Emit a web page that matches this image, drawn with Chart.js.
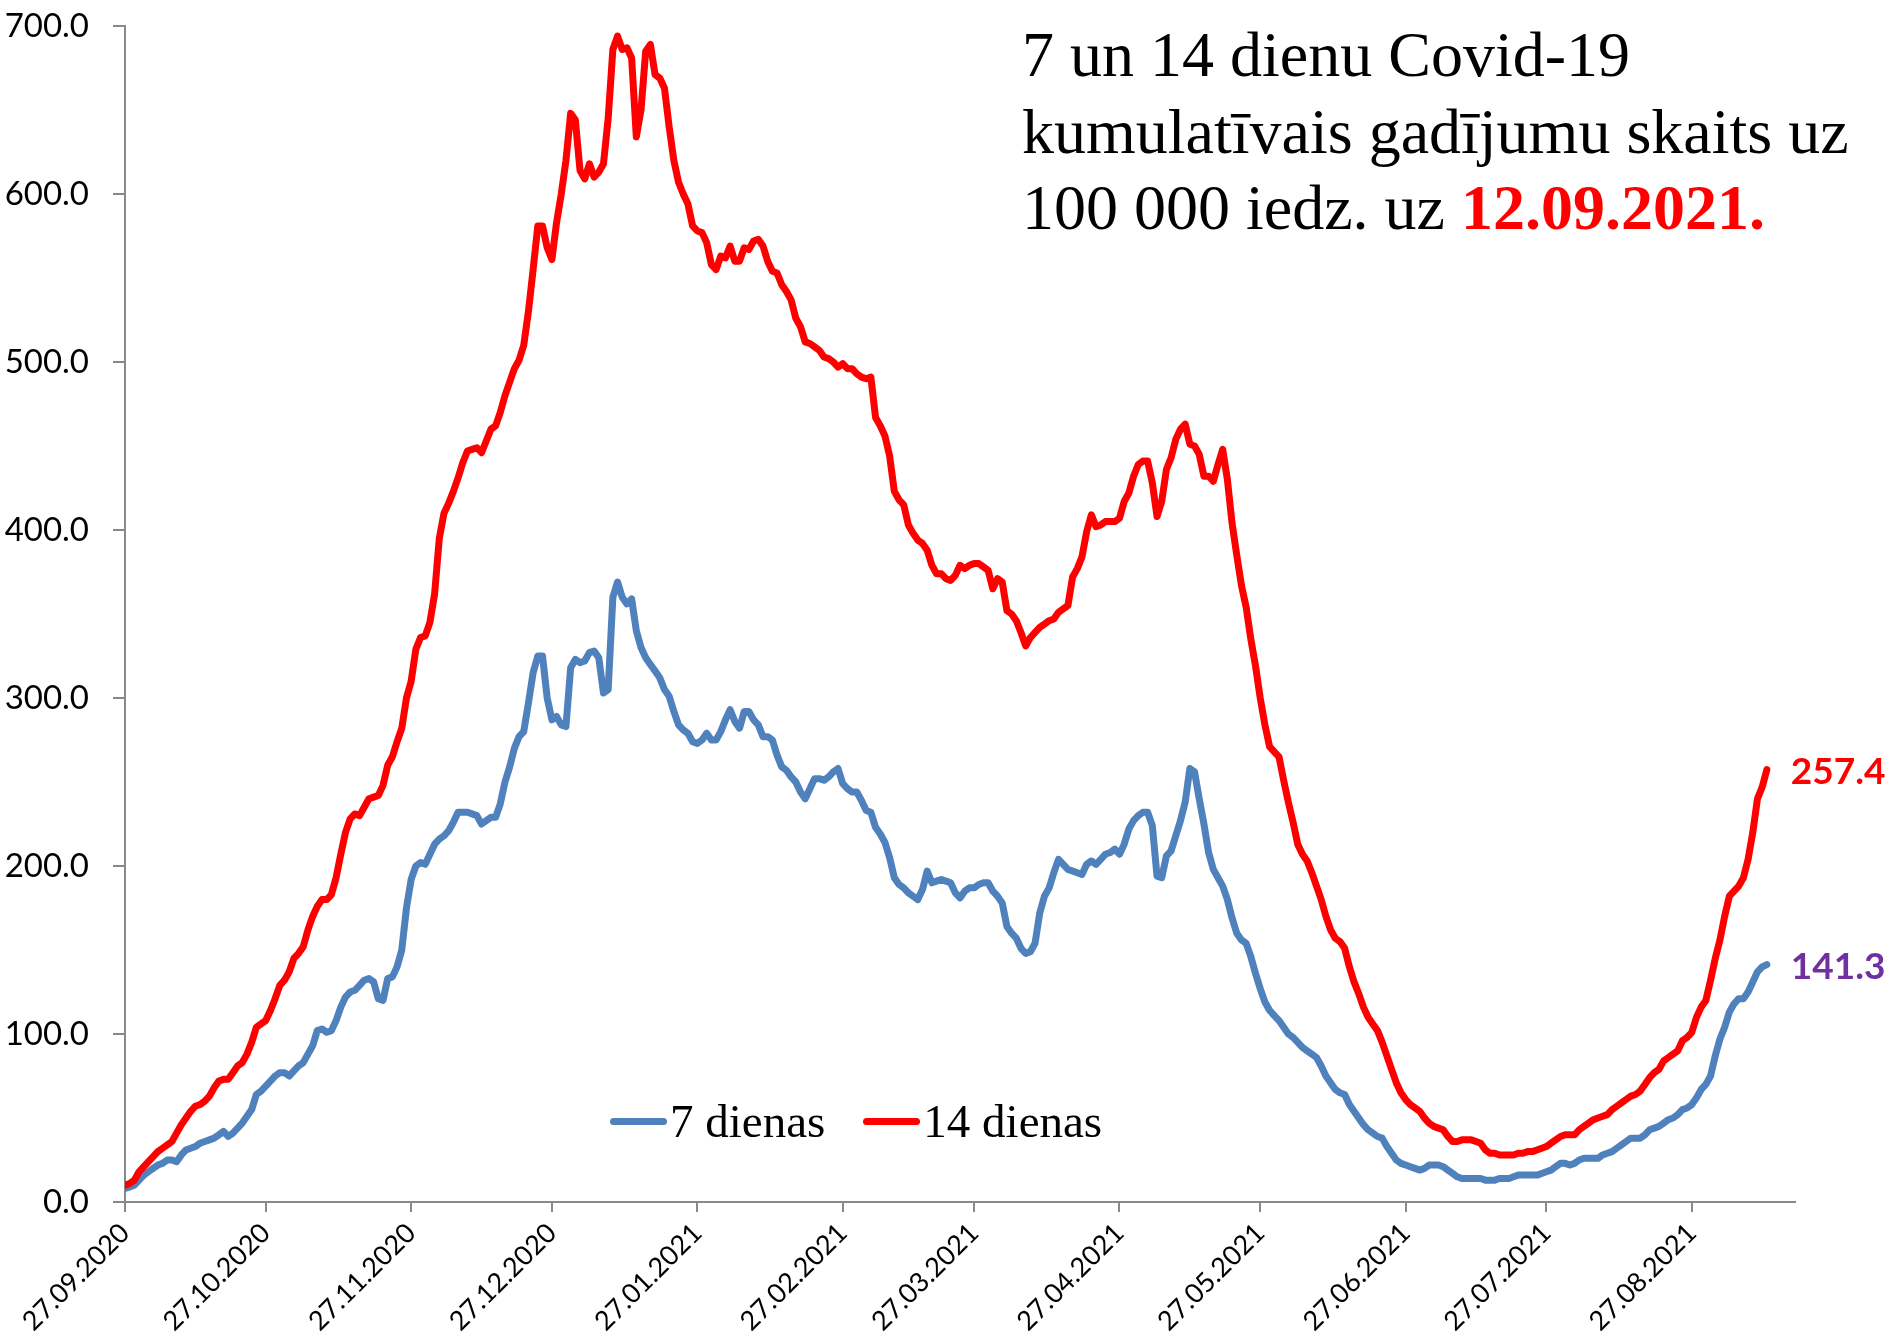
<!DOCTYPE html>
<html>
<head>
<meta charset="utf-8">
<script src="https://cdn.jsdelivr.net/npm/chart.js@4.4.1/dist/chart.umd.min.js"></script>
<style>
html,body{margin:0;padding:0;background:#fff;}
#wrap{position:relative;width:1891px;height:1332px;overflow:hidden;background:#fff;}
#c{position:absolute;left:0;top:0;}
#title{position:absolute;left:1022px;top:17px;font-family:'Liberation Serif','Times New Roman',serif;font-size:64px;line-height:76.5px;color:#000;white-space:nowrap;}
#title b{color:#FF0000;font-weight:bold;}
#legend{position:absolute;left:610px;top:1093px;display:flex;font-family:'Liberation Serif','Times New Roman',serif;font-size:47px;line-height:56px;color:#000;white-space:nowrap;}
#legend .item{display:flex;align-items:center;margin-right:38px;}
#legend .mark{width:57px;height:7px;border-radius:3.5px;margin-right:3px;}
</style>
</head>
<body>
<div id="wrap">
<canvas id="c" width="1891" height="1332"></canvas>
<div id="title">7 un 14 dienu Covid-19<br>kumulatīvais gadījumu skaits uz<br>100 000 iedz. uz <b>12.09.2021.</b></div>
<div id="legend"></div>
</div>
<script>
// ---- DATA ----
const startDate = '27.09.2020';            // first day of the daily series
const tickLabels = ['27.09.2020','27.10.2020','27.11.2020','27.12.2020','27.01.2021','27.02.2021',
                    '27.03.2021','27.04.2021','27.05.2021','27.06.2021','27.07.2021','27.08.2021'];
const seriesNames = ['7 dienas', '14 dienas'];

// 7-day cumulative cases per 100 000, daily from 27.09.2020 to 12.09.2021
const days7 = [
 8,9,10,13,16,18,20,22,23,25,
 25,24,28,31,32,33,35,36,37,38,
 40,42,39,41,44,47,51,55,64,66,
 69,72,75,77,77,75,78,81,83,88,
 93,102,103,101,102,108,116,122,125,126,
 129,132,133,131,121,120,133,134,140,150,
 175,192,200,202,201,207,213,216,218,221,
 226,232,232,232,231,230,225,227,229,229,
 237,250,259,270,277,280,297,315,325,325,
 300,287,289,284,283,318,323,321,322,327,
 328,324,303,305,360,369,360,356,359,340,
 330,324,320,316,312,305,301,292,284,281,
 279,274,273,275,279,275,275,280,287,293,
 286,282,292,292,287,284,277,277,275,266,
 259,257,253,250,244,240,246,252,252,251,
 253,256,258,249,246,244,244,239,233,232,
 223,219,214,205,193,189,187,184,182,180,
 186,197,190,191,192,191,190,184,181,185,
 187,187,189,190,190,185,182,178,164,160,
 157,151,148,149,154,172,182,187,196,204,
 201,198,197,196,195,201,203,201,204,207,
 208,210,207,213,222,227,230,232,232,224,
 194,193,206,209,218,227,238,258,256,240,
 225,208,198,193,188,180,169,160,156,154,
 146,136,127,119,114,111,108,104,100,98,
 95,92,90,88,86,81,75,71,67,65,
 64,58,54,50,46,43,41,39,38,33,
 29,25,23,22,21,20,19,20,22,22,
 22,21,19,17,15,14,14,14,14,14,
 13,13,13,14,14,14,15,16,16,16,
 16,16,17,18,19,21,23,23,22,23,
 25,26,26,26,26,28,29,30,32,34,
 36,38,38,38,40,43,44,45,47,49,
 50,52,55,56,58,62,67,70,75,87,
 97,104,113,118,121,121,125,131,137,140,
 141.3
];

// 14-day cumulative cases per 100 000, daily from 27.09.2020 to 12.09.2021
const days14 = [
 10,11,13,18,21,24,27,30,32,34,
 36,41,46,50,54,57,58,60,63,68,
 72,73,73,77,81,83,88,95,104,106,
 108,114,121,129,132,137,145,148,152,162,
 170,176,180,180,183,193,207,220,228,231,
 230,235,240,241,242,248,260,265,274,282,
 300,310,329,336,337,345,362,395,410,416,
 423,431,440,447,448,449,446,453,460,462,
 470,480,488,496,501,510,530,555,581,581,
 568,561,583,600,620,648,644,614,609,618,
 610,613,618,645,686,694,686,687,681,634,
 650,685,689,671,669,663,640,620,607,600,
 594,581,578,577,571,558,555,563,562,569,
 560,560,568,567,572,573,569,560,554,553,
 546,542,537,526,521,512,511,509,507,503,
 502,500,497,499,496,496,493,491,490,491,
 467,462,456,444,423,418,415,403,398,394,
 392,388,379,374,374,371,370,373,379,377,
 379,380,380,378,376,365,371,369,352,350,
 346,339,331,336,339,342,344,346,347,351,
 353,355,372,377,384,399,409,402,403,405,
 405,405,407,417,422,432,439,441,441,428,
 408,417,436,443,454,460,463,451,450,445,
 432,432,429,439,448,430,404,385,367,354,
 335,319,300,284,271,268,265,251,238,226,
 213,207,203,196,188,180,170,162,157,155,
 151,140,131,124,116,110,106,102,95,87,
 79,71,65,61,58,56,54,50,47,45,
 44,43,39,36,36,37,37,37,36,35,
 31,29,29,28,28,28,28,29,29,30,
 30,31,32,33,35,37,39,40,40,40,
 43,45,47,49,50,51,52,55,57,59,
 61,63,64,66,70,74,77,79,84,86,
 88,90,96,98,101,110,116,120,132,145,
 156,170,182,185,188,193,204,220,240,247,
 257.4
];

// ---- helpers ----
function parseDMY(s){ const [d,m,y] = s.split('.').map(Number); return Date.UTC(y, m-1, d); }
const t0 = parseDMY(startDate);
const dayOf = s => Math.round((parseDMY(s) - t0) / 86400000);
const tickDays = tickLabels.map(dayOf);
const toPoints = arr => arr.map((v, i) => ({x: i, y: v}));

const AXIS_COLOR = '#898989';
const X_MAX_DAY = 356;

const endLabelPlugin = {
  id: 'endLabels',
  afterDatasetsDraw(chart, args, opts) {
    const ctx = chart.ctx;
    chart.data.datasets.forEach((ds, i) => {
      const meta = chart.getDatasetMeta(i);
      const el = meta.data[meta.data.length - 1];
      const v = ds.data[ds.data.length - 1].y;
      ctx.save();
      ctx.font = opts.font;
      ctx.fillStyle = ds.endLabelColor;
      ctx.textAlign = 'left';
      ctx.textBaseline = 'middle';
      ctx.fillText(v.toFixed(1), el.x + opts.offset, el.y + 2);
      ctx.restore();
    });
  }
};

const chart = new Chart(document.getElementById('c'), {
  type: 'line',
  data: {
    datasets: [
      { label: seriesNames[0], data: toPoints(days7), borderColor: '#4F81BD', backgroundColor: '#4F81BD',
        borderWidth: 7, pointRadius: 0, tension: 0, borderCapStyle: 'round', borderJoinStyle: 'round',
        order: 2, endLabelColor: '#7030A0' },
      { label: seriesNames[1], data: toPoints(days14), borderColor: '#FF0000', backgroundColor: '#FF0000',
        borderWidth: 7, pointRadius: 0, tension: 0, borderCapStyle: 'round', borderJoinStyle: 'round',
        order: 1, endLabelColor: '#FF0000' }
    ]
  },
  options: {
    responsive: false,
    animation: false,
    devicePixelRatio: 1,
    layout: { padding: { left: 0, top: 26, right: 96, bottom: 0 } },
    plugins: {
      legend: { display: false },
      tooltip: { enabled: false },
      endLabels: { font: 'bold 37px Lato, "Open Sans", sans-serif', offset: 24 }
    },
    scales: {
      x: {
        type: 'linear', min: 0, max: X_MAX_DAY,
        afterBuildTicks: s => { s.ticks = tickDays.map(v => ({ value: v })); },
        afterFit: s => { s.height = 130; s.paddingTop = 0; },
        grid: { display: true, drawOnChartArea: false, drawTicks: true, tickLength: 10, color: AXIS_COLOR, lineWidth: 2 },
        border: { display: true, color: AXIS_COLOR, width: 2 },
        ticks: {
          autoSkip: false, minRotation: 45, maxRotation: 45, padding: 5, color: '#000',
          font: { family: 'Lato, "Open Sans", sans-serif', size: 27 },
          callback: v => { const k = tickDays.indexOf(v); return k >= 0 ? tickLabels[k] : ''; }
        }
      },
      y: {
        min: 0, max: 700,
        afterFit: s => { s.width = 125; s.paddingTop = 0; s.paddingBottom = 0; },
        grid: { display: true, drawOnChartArea: false, drawTicks: true, tickLength: 12, color: AXIS_COLOR, lineWidth: 2 },
        border: { display: true, color: AXIS_COLOR, width: 2 },
        ticks: {
          stepSize: 100, padding: 24, color: '#000',
          font: { family: 'Lato, "Open Sans", sans-serif', size: 33 },
          callback: v => Number(v).toFixed(1)
        }
      }
    }
  },
  plugins: [endLabelPlugin]
});

// HTML legend built from the datasets
const legend = document.getElementById('legend');
chart.data.datasets.forEach(ds => {
  const item = document.createElement('div'); item.className = 'item';
  const mark = document.createElement('span'); mark.className = 'mark'; mark.style.background = ds.borderColor;
  const txt = document.createElement('span'); txt.textContent = ds.label;
  item.appendChild(mark); item.appendChild(txt); legend.appendChild(item);
});
</script>
</body>
</html>
